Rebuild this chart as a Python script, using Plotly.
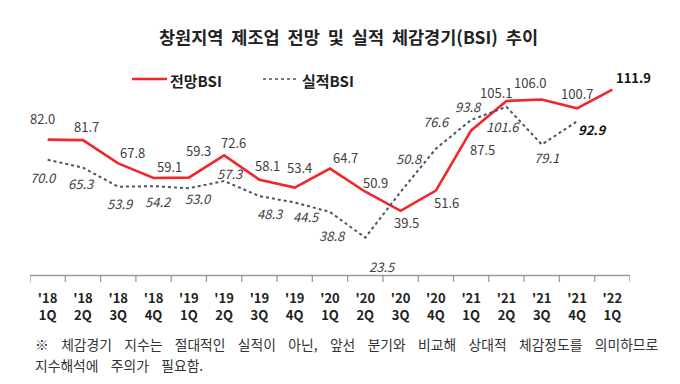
import plotly.graph_objects as go

categories = ["'18<br>1Q", "'18<br>2Q", "'18<br>3Q", "'18<br>4Q",
              "'19<br>1Q", "'19<br>2Q", "'19<br>3Q", "'19<br>4Q",
              "'20<br>1Q", "'20<br>2Q", "'20<br>3Q", "'20<br>4Q",
              "'21<br>1Q", "'21<br>2Q", "'21<br>3Q", "'21<br>4Q",
              "'22<br>1Q"]
forecast_bsi = [82.0, 81.7, 67.8, 59.1, 59.3, 72.6, 58.1, 53.4, 64.7, 50.9,
                39.5, 51.6, 87.5, 105.1, 106.0, 100.7, 111.9]
actual_bsi = [70.0, 65.3, 53.9, 54.2, 53.0, 57.3, 48.3, 44.5, 38.8, 23.5,
              50.8, 76.6, 93.8, 101.6, 79.1, 92.9, None]

# label pixel offsets (style only)
f_off = [(-5, -21), (4, -14), (14, -11), (16, -12), (10, -27), (9, -13), (8, -14),
         (5, -20), (15, -11), (10, -9), (6, 12), (11, 12), (11, 19), (-10, -8),
         (-12, -17), (0, -15), (21, -12)]
a_off = [(-4, 18), (-1, 16), (2, 17), (5, 15), (10, 10), (6, -8), (11, 17),
         (12, 14), (2, 23), (17, 29), (9, -33), (1, -27), (-3, -13), (-3, 20),
         (5, 13), (16, 8)]

FONT = "Noto Sans CJK KR"
RED = "#f2262b"
BLUE = "#44546a"
TXT = "#404040"
AXIS = "#9a9a9a"

# page body has an 8px default margin: compensate
OFF = 8
W, H = 680 - OFF, 384 - OFF
L, R, T, B = 30 - OFF, 630 - OFF, 76 - OFF, 277 - OFF

def px(x):
    return (x - OFF - L) / (R - L)

def py(y):
    return (B - (y - OFF)) / (B - T)

fig = go.Figure()
fig.add_trace(go.Scatter(x=categories, y=forecast_bsi, mode="lines", name="전망BSI",
                         line=dict(color=RED, width=2.6), showlegend=False))
fig.add_trace(go.Scatter(x=categories, y=actual_bsi, mode="lines", name="실적BSI",
                         line=dict(color=BLUE, width=2, dash="dot"), showlegend=False))

ann = []
for i, v in enumerate(forecast_bsi):
    last = i == len(forecast_bsi) - 1
    ann.append(dict(x=categories[i], y=v, xref="x", yref="y", showarrow=False,
                    text=(f"<b>{v:.1f}</b>" if last else f"{v:.1f}"),
                    xshift=f_off[i][0], yshift=-f_off[i][1],
                    font=dict(family=FONT, size=13, color="#111" if last else TXT)))
for i, v in enumerate(actual_bsi):
    if v is None:
        continue
    last = i == 15
    ann.append(dict(x=categories[i], y=v, xref="x", yref="y", showarrow=False,
                    text=(f"<b><i>{v:.1f}</i></b>" if last else f"<i>{v:.1f}</i>"),
                    xshift=a_off[i][0], yshift=-a_off[i][1],
                    font=dict(family=FONT, size=13, color="#111" if last else TXT)))

# axis line and boundary ticks (in pixels relative to the plot bottom)
ax_y = 1.5 / (B - T)
shapes = [dict(type="line", xref="paper", yref="paper", x0=0, x1=1, y0=ax_y, y1=ax_y,
               layer="above", line=dict(color=AXIS, width=1.4))]
for k in range(len(categories) + 1):
    shapes.append(dict(type="line", xref="x", yref="paper", x0=k - 0.5, x1=k - 0.5,
                       y0=ax_y, y1=-5 / (B - T), layer="above", line=dict(color=AXIS, width=1.3)))

# legend (manual)
shapes += [
    dict(type="line", xref="paper", yref="paper", x0=px(132), x1=px(167), y0=py(79), y1=py(79),
         line=dict(color=RED, width=2.6)),
    dict(type="line", xref="paper", yref="paper", x0=px(263), x1=px(297), y0=py(79), y1=py(79),
         line=dict(color=BLUE, width=1.5, dash="dot")),
]
ann.append(dict(x=px(168), y=py(80), xref="paper", yref="paper", xanchor="left", yanchor="middle",
                showarrow=False, text="<b>전망BSI</b>", font=dict(family=FONT, size=15, color="#222")))
ann.append(dict(x=px(300), y=py(80), xref="paper", yref="paper", xanchor="left", yanchor="middle",
                showarrow=False, text="<b>실적BSI</b>", font=dict(family=FONT, size=15, color="#222")))

NB = "\u00a0"
title = "창원지역 제조업 전망 및 실적 체감경기(BSI) 추이".replace(" ", " " + NB)
ann.append(dict(x=px(348), y=py(36), xref="paper", yref="paper", xanchor="center", yanchor="middle",
                showarrow=False, text=f"<b>{title}</b>",
                font=dict(family=FONT, size=17.5, color="#222")))
note1 = "※ 체감경기 지수는 절대적인 실적이 아닌, 앞선 분기와 비교해 상대적 체감정도를 의미하므로"
note2 = "지수해석에 주의가 필요함."
ann.append(dict(x=px(33), y=py(344), xref="paper", yref="paper", xanchor="left", yanchor="middle",
                showarrow=False, text=note1.replace(" ", " " + NB * 3),
                font=dict(family=FONT, size=13.8, color="#333")))
ann.append(dict(x=px(33), y=py(365), xref="paper", yref="paper", xanchor="left", yanchor="middle",
                showarrow=False, text=note2.replace(" ", " " + NB * 3),
                font=dict(family=FONT, size=13.8, color="#333")))

fig.update_layout(
    width=W, height=H,
    margin=dict(l=L, r=W - R, t=T, b=H - B, autoexpand=False),
    paper_bgcolor="white", plot_bgcolor="white",
    annotations=ann, shapes=shapes,
    xaxis=dict(type="category", showline=False, ticks="", showgrid=False, zeroline=False,
               automargin=False, tickangle=0, ticklabelstandoff=12,
               range=[-0.5, len(categories) - 0.5],
               tickvals=categories, ticktext=[f"<b>{c}</b>" for c in categories],
               tickfont=dict(family=FONT, size=13, color="#222"), fixedrange=True),
    yaxis=dict(range=[0, 120], showticklabels=False, ticks="", showline=False, zeroline=False,
               showgrid=False, fixedrange=True, automargin=False),
)

fig.write_html("out.html")
